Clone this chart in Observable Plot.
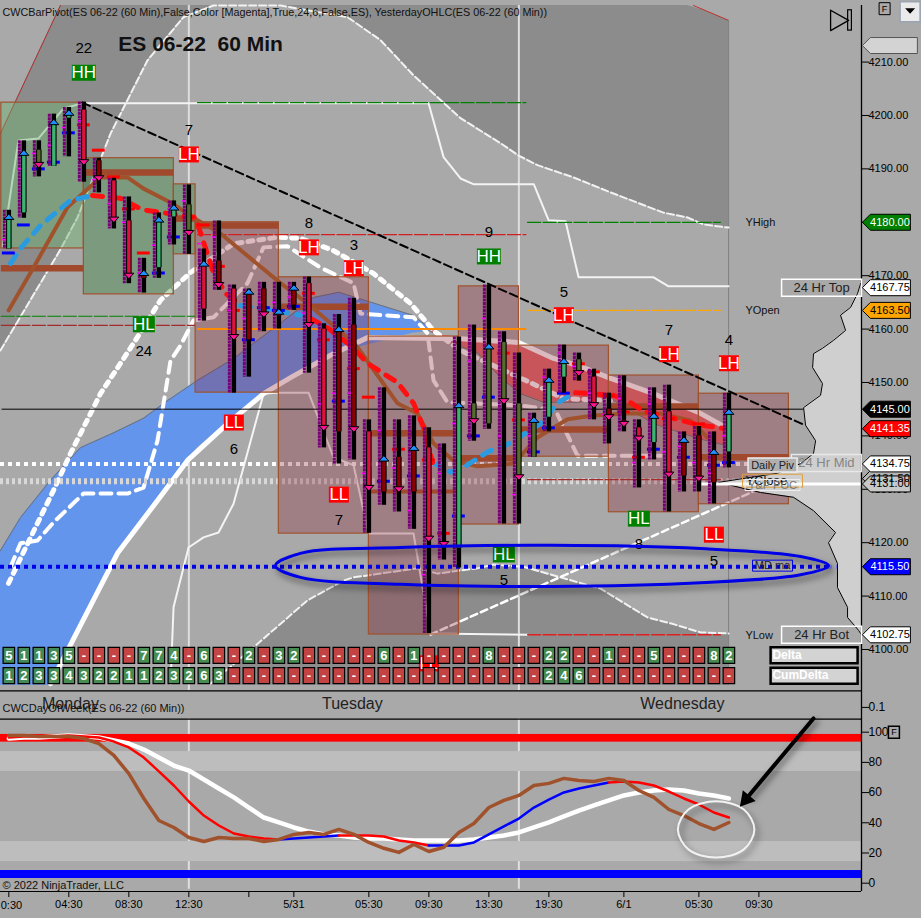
<!DOCTYPE html>
<html><head><meta charset="utf-8">
<script src="https://cdn.jsdelivr.net/npm/d3@7"></script>
<script src="https://cdn.jsdelivr.net/npm/@observablehq/plot@0.6"></script>
<style>html,body{margin:0;padding:0;background:#a9a9a9;overflow:hidden}svg{display:block}</style>
</head><body><div id="chart"></div>
<script>
// ---------- price bars (bar index = position in array, hourly bars)
const barHigh=[4182.25,4195.25,4195.25,4200.25,4201.5,4202.5,4192,4188.25,4184.75,4173.25,4181.75,4184,4187,4175,4180.25,4168.25,4167.5,4168.75,4168.75,4168.75,4169.75,4161,4162.75,4165.75,4143,4149,4143,4143.75,4141.5,4138.5,4158.5,4160.75,4168.25,4159.5,4155.5,4144.25,4152.5,4157,4155.5,4152.5,4148,4151.25,4143,4149,4149.5,4140.75,4141.75,4140.75,4148];
const barLow=[4175,4180.75,4188.5,4190.5,4192.25,4187.5,4185.5,4178.75,4168.5,4166.75,4169.5,4175.75,4174,4161.5,4167.25,4148,4151,4159.5,4160,4163.5,4151.75,4137.75,4134.75,4135.5,4121.75,4127,4125.75,4122.5,4103,4116.75,4115.25,4139,4141.25,4123.5,4123.5,4136,4140.75,4148,4150.25,4143,4138.5,4140.75,4130.25,4135.5,4125.75,4129.5,4129.5,4127.25,4134];
const bodyTop=[4181,4193,4193.5,4198.5,4200,4201,4191.5,4187.75,4180.25,4170.25,4180.25,4182.5,4183.25,4172,4172.75,4167.5,4166.75,4167.5,4163,4167.5,4168.5,4160,4159.75,4160.75,4140.75,4135.5,4136,4137.25,4137.75,null,4145.25,4146,4156.5,4157.5,4146,4142.5,4150,4153.75,4154.25,4151,4145,4142.75,4141.5,4143.5,4144.5,4139.25,4140,4136.5,4144.25];
const bodyBottom=[4175,4181.75,4190.75,4190.5,4199.5,4191.25,4188.25,4180.75,4170,4169.5,4171.5,4181,4178.5,4163.75,4168.5,4158.5,4158,4163,4162.5,4164.5,4161,4141.5,4140.75,4141.5,4130.25,4129.5,4130,4129.5,4120.75,null,4119,4143,4142.25,4146.75,4132.25,4136,4143.5,4151,4152,4146,4143.75,4142.25,4139.75,4138.75,4133,4132.5,4132.25,4131.25,4137];
const bodyKind=["g","g","o","g","g","c","d","c","c","d","g","g","o","c","d","c","d","d","d","d","c","c","d","d","c","d","d","d","c",null,"g","o","o","o","o","o","g","g","o","c","d","c","c","g","c","d","d","d","g"];
const pocPrice=[4181,4193,4190.75,4198.75,4200.5,4191.25,4188.25,4180.5,4170,4170.5,4180.5,4182.75,4178,4172.25,4168.25,4158.5,4167,4162.75,4163.25,4167.75,4160.75,4141.5,4160,4141.25,4130.25,4135.75,4130,4137.75,4120.75,4119.75,4145.75,4142.75,4156.75,4146.5,4132.25,4143,4150.5,4154,4151.75,4145.75,4143.5,4142.25,4139.5,4143.75,4132.75,4139.25,4132,4137,4144.5];
const pocDir=["u","u","d","u","u","d","d","d","d","u","u","u","d","u","d","d","u","d","u","u","d","d","u","d","d","u","d","u","d","d","u","d","u","d","d","u","u","u","d","d","d","d","d","u","d","u","d","u","u"];
const dashPrice=[4174.25,4179.5,4190,4191.25,4196.75,4198.25,4193.5,4188.5,4182.5,4174.25,4170.5,4177.25,4181,4179.5,4171.75,4163.5,4158,4164,4163.5,4164.25,4166.7,4158,4146.5,4152.6,4147.25,4131.5,4137.5,4132.5,4135.5,4121.75,4125,4140,4147.25,4155.5,4143,4137,4141.5,4148,4153.5,4152,4147.5,4144.5,4136,4137.5,4143.25,4136,4142.25,4134.5,4135];
const dashKind=["b","b","b","b","b","r","r","r","r","r","b","b","r","r","r","r","b","b","b","b","r","r","b","r","r","b","r","b","r","r","b","b","b","r","r","b","b","b","r","r","r","r","r","b","r","b","r","b","b"];
const tickPrice=[4176.75,4190,4192.9,4194.4,4197.75,4199,4188,4183.5,4180,4170.5,4175.7,4182.5,4184,4176,4177.25,4163.5,4162,4165,4165,4166,4163,4146,4148,4148,4133,4141,4134,4126,4114,4133,4142.3,4154,4162,4140,4129,4140,4151,4155.5,4153,4148,4144,4147,4135,4146,4137,4138,4135,4133,4140];
// ---------- value-area boxes: bar from, bar to, top, bottom
const greenBoxes=[[-0.5,5,4202.4,4175.1,"a"],[5,11,4192,4166.5,"b"],[11,12.45,4187.1,4174,"b"]];
const redBoxes=[[12.45,18,4180,4148.1],[18,24,4169.7,4121.7],[24,30,4158.6,4102.8],[30,34,4168,4123.4],[34,40,4156.9,4136.1],[40,46,4151.3,4125.7],[46,52,4147.9,4127.2]];
const pocBands=[[-0.5,5,4171.4],[5,11,4189.3],[11,12.45,4180.7],[12.45,18,4179.4],[18,24,4164.2],[24,30,4140.5],[30,34,4135.8],[34,40,4141.2],[40,46,4145.5],[46,52,4136]];
const pocThin=[[24,30,4129.6]];
// ---------- clouds
const upperBand=[[-0.56,4156],[3.44,4174.9],[4.58,4180.9],[6.78,4196.6],[9.24,4210.3],[11.64,4218.4],[13.64,4220.6],[18.11,4220.6],[22.58,4218.4],[24.78,4214.1],[26.98,4207.5],[30.11,4199.5],[32.78,4194.8],[33.98,4192.5],[35.24,4190.7],[37.64,4188.4],[40.11,4185.6],[43.64,4181.8],[45.24,4180.9],[46.31,4179.6],[47.98,4179]];
const upperCeil=[4196.6,4220.6,4220.6,4220.6,4220.6,4220.6,4220.6,4220.6,4220.6,4220.6,4220.6,4220.6,4220.6,4220.6,4220.6,4220.6,4220.6,4220.6,4220.6,4219.7,4217.8];
const lowerBand=[[13.44,4093.6],[16.31,4100.4],[19.91,4109.2],[22.31,4112.9],[22.98,4113.5],[27.24,4115.2],[28.58,4114.2],[30.11,4114.8],[31.24,4115.2],[32.31,4115.9],[34.31,4115.5],[36.78,4113.5],[39.44,4111.4],[42.58,4106],[44.11,4104.9],[46.11,4103.2],[47.98,4103]];
const lowerFloor=4093.3;
const blueX=[-0.56,0.78,2.78,4.78,7,8.98,10.58,12.58,15,16.11,18.11,20.31,22,26.91,28.11];
const blueTop=[4118.5,4124.7,4131.7,4137.8,4140.6,4143.3,4146.6,4150.4,4154.5,4156.9,4161.1,4165.9,4166.9,4162.6,4160.1];
const blueBottom=[4093.3,4093.3,4093.3,4104.5,4116.7,4124.3,4130.3,4137.8,4143.6,4146.1,4150,4153.6,4155.6,4159.2,4159.6];
const salmonX=[28.05,29,31.24,32.78,34.11,35.64,37.91,40.11,42.98,45.98,47.78];
const salmonTop=[4159.9,4158.8,4158.2,4157.9,4157.3,4155.6,4153.2,4150.9,4147.9,4144.4,4141.8];
const salmonBottom=[4159.7,4157.9,4155.6,4150.9,4147.9,4146.3,4146.3,4147,4142.3,4139.5,4138.2];
// ---------- moving averages and channel lines
const thickWhite=[[2.78,4093.6],[7.24,4118],[9.91,4127.9],[11.91,4135.4],[14.58,4142.3],[16.98,4147.9],[18.78,4150.9],[21.64,4155.4],[23.91,4158.4],[30.11,4158.2],[33.98,4157.5],[36.31,4154.5],[37.91,4153.2],[39.98,4150.9],[42.98,4147.9],[45.98,4144.4],[47.91,4141.4]];
const brownMA=[[-0.02,4163.5],[1.64,4171.5],[3.91,4182.8],[6.11,4188.4],[7.91,4188.4],[8.98,4186.3],[10.78,4183.7],[12.58,4180.4],[14.11,4177.9],[18.11,4168.6],[19.91,4164.8],[22.78,4157.9],[23.24,4156.6],[25.91,4146.1],[27.24,4144.2],[28.31,4138.6],[29.64,4135.4],[31.24,4134.3],[33.64,4134.8],[35.24,4139.7],[37.24,4143.1],[38.98,4143.8],[41.24,4144.2],[43.44,4144.2],[45.44,4142.9],[46.58,4139.7]];
const dottedWhite=[[-0.02,4112.4],[1.78,4122.9],[2.98,4129.8],[4.11,4136.7],[6.11,4147.9],[8.31,4157.3],[10.11,4165.4],[12.11,4170.6],[14.98,4176],[17.91,4177.2],[19.44,4177],[21.64,4174.7],[24.31,4170.4],[26.78,4164.8],[28.31,4159.7],[30.11,4156],[34.44,4150.4],[36.98,4147],[40.11,4146.6]];
const dashedWhite=[[0.11,4115.4],[0.78,4119.9],[1.91,4120.4],[2.98,4123.8],[4.98,4129.2],[7.91,4129.2],[8.98,4130.3],[9.91,4139.1],[10.78,4154.1],[11.44,4156.9],[12.31,4161.6],[13.64,4162.2],[15.91,4168.6],[16.98,4175.3],[18.58,4175.5],[20.78,4171.5],[22.98,4168.6],[23.44,4162.9],[26.98,4162.2],[27.91,4159.2],[28.31,4150.4],[29.24,4146.3],[34.11,4145.7],[36.44,4144.8],[37.91,4136.3],[43.44,4136.3]];
const fastBlue=[[[0.11,4172.3],[0.78,4175.1],[2.11,4179.4],[4.11,4184.1],[5.58,4185]],[[15.44,4164.4],[16.44,4164.1],[19.44,4162.6]],[[28.24,4135],[29.44,4133.2],[30.31,4134.1],[31.98,4137.1],[33.24,4138.4],[35.44,4142.3],[36.64,4146.3],[37.78,4148.1]]];
const fastRed=[[[5.58,4185],[7.44,4184.5],[8.58,4182.8],[9.24,4182.2],[12.44,4180.9],[13.64,4170.6],[14.44,4166.7],[15.44,4164.4]],[[20.1,4162],[21.31,4160.1],[22.78,4156.9],[23.91,4153.6],[25.91,4150],[26.98,4146.1],[27.64,4141.6],[28.24,4135]],[[37.78,4148.1],[40.31,4147.6],[41.31,4146.5],[42.31,4144.6],[44.31,4143.3],[45.91,4142.1],[47.64,4141.4]]];
const topLine=[[-0.42,4175.3],[0.24,4187.8],[0.64,4195.3],[1.98,4195.7],[3.64,4201.3],[4.91,4202.3],[27.98,4202.3],[28.98,4192.2],[30.11,4188.2],[31,4187.1],[35,4187.1],[35.98,4180.4],[37.11,4180.2],[37.98,4169.7],[42.98,4169.7],[43.98,4168],[47.98,4168]];
const lowLine=[[10.78,4093.6],[10.98,4107.9],[11.98,4119.1],[12.98,4121],[13.98,4121.9],[14.98,4127.3],[16.98,4147.9],[17.98,4148.1],[19.98,4148.1],[21.64,4136],[22.98,4134.5],[23.98,4121.7],[26.98,4121.7],[27.58,4111.6],[28.11,4103],[34.58,4102.75]];
const levels=[
 [12.58,34.53,4202.4,"#008000"],[34.58,47.5,4180,"#008000"],[12.58,34.53,4177.7,"#d02020"],
 [-0.5,12.44,4162.4,"#008000"],[-0.5,12.44,4160.7,"#a52a2a"],[34.58,47.5,4163.5,"#ffa500"],
 [34.58,47.5,4131.8,"#a52a2a"]];
const blackTrend=[[4.91,4202.4],[53.11,4141.95]];
const whiteTrend=[[28.11,4102.8],[52.78,4133.5]];
const ellipsePts=[[17.78,4115.7],[19.44,4118],[26.11,4119.1],[36.24,4119.5],[46.11,4118.9],[52.78,4117.4],[54.64,4115.7],[52.78,4114],[46.11,4112.5],[36.24,4111.8],[26.11,4112.2],[19.44,4113.5]];
// ---------- volume profile: left edge and price
const profileEdge=[56.78,56.58,56.11,55.44,55.78,54.98,54.24,53.64,53.58,54.24,54.11,52.98,53.11,53.78,53.64,52.78,51.24,47.31,50.11,52.31,53.64,55.11,54.64,55.24,55.24,55.91,55.91,56.64,56.78];
const profilePrice=[4168.55,4166.7,4164.05,4162.6,4159.75,4157.9,4156.4,4155.4,4152.8,4149.8,4147.6,4145.3,4142,4139.1,4136.7,4134.8,4133,4131.3,4129.4,4128.5,4126,4121.9,4120,4116.1,4111.6,4107.9,4106,4103.6,4103];
// ---------- pivot labels
const pivots=[["HH",5,4208,"22",4212.6],["LH",12,4192.7,"7",4197.2],["LH",20,4175.3,"8",4179.8],["LH",23,4171.4,"3",4175.7],["HL",9,4160.9,"24",4155.8],["LL",15,4142.5,"6",4137.6],["LL",22,4129,"7",4124.2],["HH",32,4173.6,"9",4178.1],["LH",37,4162.6,"5",4166.9],["LH",44,4155.3,"7",4159.7],["LH",48,4153.6,"4",4157.9],["HL",42,4124.5,"8",4119.7],["LL",47,4121.5,"5",4116.5],["HL",33,4117.8,"5",4112.9],["LL",28,4097.4,"",0]];
// ---------- delta rows
const deltaRow=["5","1","1","3","5","-","-","-","-","7","7","4","-","6","-","-","2","-","3","2","-","-","-","-","-","6","-","1","-","-","-","-","8","-","-","-","2","2","-","-","1","-","-","5","-","-","-","8","2"];
const cumDeltaRow=["1","2","3","3","4","3","2","2","1","1","2","3","2","6","3","-","-","-","-","-","-","-","-","-","-","-","-","-","-","-","-","-","-","-","-","-","2","4","6","-","-","-","-","-","-","-","-","-","-"];
// ---------- right-hand price tags
const priceTags=[["",4213.1,"#d3d3d3","#000",true],["4131.50",4132,"#b5b5b5","#000"],["4180.00",4180,"#008000","#fff"],["4167.75",4167.75,"#fff","#000"],["4163.50",4163.5,"#ffa500","#000"],["4145.00",4145,"#000","#fff"],["4141.35",4141.35,"#ff0000","#fff"],["4134.75",4134.75,"#fff","#000"],["4131.00",4131,"#c8c8c8","#000"],["4115.50",4115.5,"#0000ff","#fff"],["4102.75",4102.75,"#fff","#000"]];
// ---------- day-of-week oscillator, one value per bar
const oscWhite=[95.8,96.5,96.5,97.2,97.8,97.2,96.5,94.5,92.5,88.5,83.2,77.9,74.6,68.7,62.7,56.8,50.1,43.5,40.3,36.9,34.2,32.3,31.6,30.3,29.6,29.6,28.9,28.3,28.3,28.3,28.3,28.9,30.3,31.6,33.6,36.9,40.3,44.2,48.1,51.5,54.8,58.1,60.1,61.4,62.1,61.4,59.4,58.1,56.1];
const oscFast=[96.5,97.2,97.2,97.2,97.8,97.2,96.5,93.8,89.9,83.2,74,64.7,54.1,44.8,38.2,32.9,30.9,29.6,29,29.6,30.3,30.9,31.6,31.6,31.6,30.9,28.3,27,25,25,25,27,32.3,37.6,42.8,50.1,55.4,60.1,62.7,64.7,66.7,67.3,66.7,64.7,60.7,56.1,52.1,46.8,43.5];
const oscFastColor=["r","r","r","r","r","r","r","r","r","r","r","r","r","r","r","r","r","r","b","b","b","b","r","r","r","r","r","r","b","b","b","b","b","b","b","b","b","b","b","b","r","r","r","r","r","r","r","r","r"];
const oscBrown=[97.8,97.8,97.2,97.2,97.2,95.8,92.5,84.6,72.6,56.1,41.5,36.9,30.3,27.6,30.3,29.6,29.6,27.6,29,32.3,33.6,32.3,35.6,32.3,27,23.1,20.4,25.6,21,23.8,33.6,39.5,50.1,54.8,58.1,64.7,66.1,69.4,68,67.3,69.4,68,61.4,56.8,48.8,44.8,39.5,35.6,40.2];
const circlePts=[[44.6,35.6],[45.3,48.8],[47.14,54.2],[49,48.8],[49.7,35.6],[49,22.4],[47.14,17],[45.3,22.4]];
const xTicks=[0,4,8,12,16,19,24,28,32,36,41,46,50];
const xTickLabels=["","04:30","08:30","12:30","","5/31","05:30","09:30","13:30","19:30","6/1","05:30","09:30"];
const priceTicks=[4100,4110,4120,4130,4140,4150,4160,4170,4180,4190,4200,4210];

// ---------- helpers
const X=d=>d[0],Y=d=>d[1];
const box=(w,h)=>({draw(c){c.rect(-w/2,-h/2,w,h)}});
const tagSym=w=>({draw(c){c.moveTo(0,0);c.lineTo(8,-8);c.lineTo(w,-8);c.lineTo(w,8);c.lineTo(8,8);c.closePath()}});
const triUp={draw(c){c.moveTo(-5,2.5);c.lineTo(5,2.5);c.lineTo(0,-3);c.closePath()}};
const triDown={draw(c){c.moveTo(-5,-2.5);c.lineTo(5,-2.5);c.lineTo(0,3);c.closePath()}};
const FONT="'Liberation Sans',Arial,sans-serif";
const bars=barHigh.map((h,i)=>({i,h,l:barLow[i],t:bodyTop[i],b:bodyBottom[i],k:bodyKind[i],poc:pocPrice[i],dir:pocDir[i],dp:dashPrice[i],dk:dashKind[i],tick:tickPrice[i]}));
const bodyCol={g:"#3cb371",o:"#556b2f",c:"#dc143c",d:"#8b0000"};
const xDom=[-0.555,56.84],xRange=[0,861];
const label=(t,x,y,o={})=>Plot.text([t],{x:()=>x,y:()=>y,text:d=>d,fontSize:11,fill:"#111",...o});
const boxed=(t,x,y,w,h,o={})=>[
  Plot.dot([0],{x:()=>x,y:()=>y,symbol:box(w,h),fill:o.bg||"none",stroke:o.edge||"#fff",strokeWidth:o.sw||1.5}),
  Plot.text([t],{x:()=>o.tx??x,y:()=>y,text:d=>d,fontSize:o.fs||12,fill:o.fg||"#222",fontWeight:o.fw||"normal",textAnchor:o.anchor||"middle"})];

// ---------- main price panel
const main=Plot.plot({
 width:921,height:690,marginLeft:0,marginRight:60,marginTop:0,marginBottom:0,
 style:{fontFamily:FONT,background:"transparent"},
 x:{domain:xDom,range:xRange,axis:null},
 y:{domain:[4092.32,4221.53],range:[690,0],axis:null},
 marks:[
  Plot.areaY(upperBand,{x:X,y1:(d,i)=>upperCeil[i],y2:Y,fill:"#8c8c8c",curve:"linear"}),
  Plot.areaY(lowerBand,{x:X,y1:Y,y2:()=>lowerFloor,fill:"#8c8c8c"}),
  Plot.line([[-0.56,4196.6],[3.44,4220.6]],{x:X,y:Y,stroke:"#b03030",strokeWidth:1}),
  Plot.line([[45.64,4220.6],[47.98,4217.8]],{x:X,y:Y,stroke:"#c03030",strokeWidth:1}),
  Plot.ruleX([47.98],{y1:4217.8,y2:4093.3,stroke:"#808080",strokeWidth:1}),
  Plot.ruleX([12,34],{y1:4220.6,y2:4092.32,stroke:"#dedede",strokeWidth:2}),
  Plot.areaY(blueX,{x:d=>d,y1:(d,i)=>blueTop[i],y2:(d,i)=>blueBottom[i],fill:"#6495ed"}),
  Plot.line(blueX,{x:d=>d,y:(d,i)=>blueTop[i],stroke:"#707070",strokeWidth:1}),
  Plot.areaY(salmonX,{x:d=>d,y1:(d,i)=>salmonTop[i],y2:(d,i)=>salmonBottom[i],fill:"#e46a6a"}),
  Plot.line(salmonX,{x:d=>d,y:(d,i)=>salmonBottom[i],stroke:"#707070",strokeWidth:1}),
  Plot.line(upperBand,{x:X,y:Y,stroke:"#f2f2f2",strokeWidth:2,strokeDasharray:"7 3"}),
  Plot.line(lowerBand,{x:X,y:Y,stroke:"#f2f2f2",strokeWidth:2,strokeDasharray:"7 3"}),
  Plot.line(topLine,{x:X,y:Y,stroke:"#f4f4f4",strokeWidth:2}),
  Plot.line(lowLine,{x:X,y:Y,stroke:"#f4f4f4",strokeWidth:2}),
  Plot.line(thickWhite,{x:X,y:Y,stroke:"#fff",strokeWidth:5}),
  Plot.line(dottedWhite,{x:X,y:Y,stroke:"#fff",strokeWidth:5,strokeDasharray:"5 6"}),
  Plot.line(dashedWhite,{x:X,y:Y,stroke:"#fff",strokeWidth:4,strokeDasharray:"11 7"}),
  Plot.ruleY([4134.75],{x1:-0.555,x2:56.84,stroke:"#fff",strokeWidth:4,strokeDasharray:"4 4"}),
  Plot.ruleY([4131.5],{x1:-0.555,x2:56.84,stroke:"#d8d8d8",strokeWidth:6,strokeDasharray:"3 3"}),
  Plot.line(whiteTrend,{x:X,y:Y,stroke:"#fff",strokeWidth:2.5,strokeDasharray:"7 4"}),
  // value area boxes
  Plot.rect(greenBoxes,{x1:d=>d[0],x2:d=>d[1],y1:d=>d[3],y2:d=>d[2],fill:d=>d[4]==="a"?"rgb(111,180,111)":"rgb(20,120,25)",fillOpacity:d=>d[4]==="a"?.45:.3,stroke:"#a0522d",strokeWidth:1.2}),
  Plot.rect(redBoxes,{x1:d=>d[0],x2:d=>d[1],y1:d=>d[3],y2:d=>d[2],fill:"rgb(140,40,55)",fillOpacity:.32,stroke:"#a0522d",strokeWidth:1.2}),
  Plot.ruleY(pocBands,{x1:d=>d[0],x2:d=>d[1],y:d=>d[2],stroke:"#a0492d",strokeWidth:6.5}),
  Plot.ruleY(pocThin,{x1:d=>d[0],x2:d=>d[1],y:d=>d[2],stroke:"#a0492d",strokeWidth:4}),
  // levels
  Plot.ruleY(levels,{x1:d=>d[0],x2:d=>d[1],y:d=>d[2],stroke:d=>d[3],strokeWidth:1.2,strokeDasharray:"14 1.5"}),
  Plot.ruleY([4160],{x1:12.58,x2:34.53,stroke:"#ff8c00",strokeWidth:2}),
  Plot.ruleY([4102.75],{x1:34.58,x2:47.5,stroke:"#e02020",strokeWidth:1.5,strokeDasharray:"14 1.5"}),
  Plot.ruleY([4145],{x1:-0.45,x2:56.84,stroke:"#000",strokeWidth:1}),
  Plot.ruleY([4115.5],{x1:-0.555,x2:54.64,stroke:"#0000e6",strokeWidth:4,strokeDasharray:"4 4"}),
  Plot.ruleY([4115.5],{x1:54.64,x2:56.84,stroke:"#7a7af0",strokeWidth:4,strokeDasharray:"4 4"}),
  // profile
  Plot.areaX(profileEdge,{x1:()=>56.84,x2:d=>d,y:(d,i)=>profilePrice[i],fill:"#cfcfcf"}),
  Plot.line(profileEdge,{x:d=>d,y:(d,i)=>profilePrice[i],stroke:"#000",strokeWidth:1}),
  Plot.ruleY([4131],{x1:46.2,x2:56.84,stroke:"#fff",strokeWidth:3}),
  // moving averages
  Plot.line(brownMA,{x:X,y:Y,stroke:"#a0522d",strokeWidth:4}),
  ...fastBlue.map(s=>Plot.line(s,{x:X,y:Y,stroke:"#2a9be0",strokeWidth:5,strokeDasharray:"10 9"})),
  ...fastRed.map(s=>Plot.line(s,{x:X,y:Y,stroke:"#ff1010",strokeWidth:5,strokeDasharray:"10 9"})),
  Plot.line(blackTrend,{x:X,y:Y,stroke:"#000",strokeWidth:2,strokeDasharray:"8 4"}),
  // bars
  Plot.ruleY(bars,{x1:d=>d.i-.43,x2:d=>d.i+.43,y:"dp",stroke:d=>d.dk==="b"?"#0000ff":"#ff0000",strokeWidth:3}),
  Plot.ruleX(bars,{x:"i",y1:"h",y2:"l",dx:-4.5,stroke:"#7a007a",strokeWidth:3,strokeDasharray:"3 .5"}),
  Plot.ruleX(bars,{x:"i",y1:"h",y2:"l",stroke:"#000",strokeWidth:4.5}),
  Plot.ruleX(bars.filter(d=>d.k),{x:"i",y1:"t",y2:"b",stroke:"#000",strokeWidth:5.5}),
  Plot.ruleX(bars.filter(d=>d.k),{x:"i",y1:"t",y2:"b",stroke:d=>bodyCol[d.k],strokeWidth:3.4}),
  Plot.ruleY(bars,{x1:d=>d.i-.42,x2:d=>d.i-.17,y:"tick",stroke:"#ff00ff",strokeWidth:1.5}),
  Plot.dot(bars.filter(d=>d.dir==="u"),{x:"i",y:"poc",symbol:triUp,fill:"#1e90ff",stroke:"#000",strokeWidth:1}),
  Plot.dot(bars.filter(d=>d.dir==="d"),{x:"i",y:"poc",symbol:triDown,fill:"#ff1493",stroke:"#000",strokeWidth:1}),
  // pivot labels
  Plot.dot(pivots.filter(d=>d[0]==="HH"),{x:d=>d[1],y:d=>d[2],symbol:box(24,16),fill:"#008000"}),
  Plot.dot(pivots.filter(d=>d[0]==="HL"),{x:d=>d[1],y:d=>d[2],symbol:box(22,16),fill:"#008000"}),
  Plot.dot(pivots.filter(d=>d[0][0]==="L"),{x:d=>d[1],y:d=>d[2],symbol:box(20,16),fill:"#ff0000"}),
  Plot.text(pivots,{x:d=>d[1],y:d=>d[2],text:d=>d[0],fill:"#fff",fontSize:17}),
  Plot.text(pivots,{x:d=>d[1],y:d=>d[4],text:d=>d[3],fill:"#000",fontSize:15}),
  // ellipse
  Plot.line(ellipsePts,{x:X,y:Y,curve:"catmull-rom-closed",stroke:"#0000e6",strokeWidth:3,imageFilter:"drop-shadow(3px 4px 3px rgba(0,0,0,.55))"}),
  // delta rows
  Plot.dot(deltaRow,{x:(d,i)=>i,y:()=>4098.9,symbol:box(11.5,16),fill:d=>d==="-"?"#c83c3c":"#3f8a4a",fillOpacity:.92,stroke:"#000",strokeWidth:1.2}),
  Plot.text(deltaRow,{x:(d,i)=>i,y:()=>4098.9,text:d=>d,fill:"#fff",fontSize:13,fontWeight:"bold"}),
  Plot.dot(cumDeltaRow,{x:(d,i)=>i,y:()=>4095.1,symbol:box(11.5,16),fill:d=>d==="-"?"#c83c3c":"#3f8a4a",fillOpacity:.92,stroke:"#000",strokeWidth:1.2}),
  Plot.text(cumDeltaRow,{x:(d,i)=>i,y:()=>4095.1,text:d=>d,fill:"#fff",fontSize:13,fontWeight:"bold"}),
  // axis
  Plot.ruleX([56.84],{y1:4220.6,y2:4092.32,stroke:"#000",strokeWidth:1.3}),
  Plot.axisY({anchor:"right",ticks:priceTicks,tickFormat:d=>d.toFixed(2),tickSize:7,tickPadding:0,fontSize:11,label:null,color:"#000"}),
  // text annotations
  label("YHigh",49.1,4180,{textAnchor:"start"}),
  label("YOpen",49.1,4163.5,{textAnchor:"start"}),
  label("YLow",49.1,4102.6,{textAnchor:"start"}),
  ...boxed("24 Hr Mid",54.5,4134.9,70,17,{fg:"#858585",fs:13,edge:"#e8e8e8"}),
  ...boxed("",50.91,4131.6,60,13,{edge:"#e0a040",sw:1}),
  label("YClose",49.1,4131.5,{textAnchor:"start",fontSize:13}),
  ...boxed("Y&P POC",50.91,4130.8,55,11,{edge:"#eee",sw:1,fg:"#777",fs:11}),
  ...boxed("Daily Piv",50.91,4134.55,49,14,{bg:"#b0b0b0",edge:"#eee",fs:11}),
  ...boxed("MD ma",50.91,4115.7,40,11,{edge:"#0000e6",sw:1,fs:11}),
  ...boxed("24 Hr Top",54.18,4167.75,80,17,{fg:"#222",fs:13}),
  ...boxed("24 Hr Bot",54.18,4102.75,80,17,{fg:"#222",fs:13}),
  ...boxed("Delta",53.68,4098.9,87,16,{bg:"#d3d3d3",edge:"#000",sw:2.5,fg:"#fff",fw:"bold",anchor:"start",tx:50.9}),
  ...boxed("CumDelta",53.68,4095.1,87,16,{bg:"#d3d3d3",edge:"#000",sw:2.5,fg:"#fff",fw:"bold",anchor:"start",tx:50.9}),
  // price tags
  Plot.dot(priceTags.filter(d=>d[4]),{x:()=>56.9,y:d=>d[1],symbol:tagSym(55),fill:d=>d[2],stroke:"#555",strokeWidth:1}),
  Plot.dot(priceTags.filter(d=>!d[4]),{x:()=>56.9,y:d=>d[1],symbol:tagSym(48),fill:d=>d[2],stroke:"#000",strokeWidth:1}),
  Plot.text(priceTags,{x:()=>56.9,y:d=>d[1],text:d=>d[0],dx:27.5,fill:d=>d[3],fontSize:11}),
  // headings
  Plot.text(["CWCBarPivot(ES 06-22 (60 Min),False,Color [Magenta],True,24,6,False,ES), YesterdayOHLC(ES 06-22 (60 Min))"],{x:()=>-0.42,y:()=>4219.3,text:d=>d,textAnchor:"start",fontSize:10.8,fill:"#111"}),
  Plot.text(["ES 06-22  60 Min"],{x:()=>7.3,y:()=>4213.4,text:d=>d,textAnchor:"start",fontSize:21,fontWeight:"bold",fill:"#111",style:{whiteSpace:"pre"}}),
  // chart-trader glyphs
  Plot.line([[54.78,4219.7],[55.98,4217.8],[54.78,4215.9],[54.78,4219.7]],{x:X,y:Y,stroke:"#000",strokeWidth:1.3}),
  Plot.rect([0],{x1:()=>55.95,x2:()=>56.2,y1:()=>4215.9,y2:()=>4219.7,stroke:"#000",strokeWidth:1.2,fill:"none"}),
  ...boxed("F",58.38,4220,11,12,{edge:"#000",sw:1,fs:9,fg:"#000"}),
  Plot.dot([0],{x:()=>60.08,y:()=>4219.4,symbol:box(20,20),fill:"#eaeaea",stroke:"#9aa4b4",strokeWidth:1.5}),
  Plot.dot([0],{x:()=>60.08,y:()=>4219.6,symbol:triDown,fill:"#000"})
 ]});

// ---------- oscillator panel
const sameColorRuns=(vals,cols)=>{const runs=[];let cur=null;vals.forEach((v,i)=>{if(!cur||cols[i]!==cur.c){if(cur)cur.p.push([i,v]);cur={c:cols[i],p:[]};runs.push(cur)}cur.p.push([i,v])});return runs};
const lower=Plot.plot({
 width:921,height:228,marginLeft:0,marginRight:60,marginTop:0,marginBottom:27,
 style:{fontFamily:FONT,background:"transparent"},
 x:{domain:xDom,range:xRange,axis:null},
 y:{domain:[-5.5,127.6],range:[201,0],axis:null},
 marks:[
  Plot.ruleX([12,34],{y1:108.7,y2:-4,stroke:"#dedede",strokeWidth:2}),
  Plot.rect([[87.2,74],[27.6,14.3]],{x1:()=>-0.555,x2:()=>56.84,y1:d=>d[1],y2:d=>d[0],fill:"#bdbdbd"}),
  Plot.rect([[98.5,93.4]],{x1:()=>-0.555,x2:()=>56.84,y1:d=>d[1],y2:d=>d[0],fill:"#ff0000"}),
  Plot.rect([[8.4,3.1]],{x1:()=>-0.555,x2:()=>56.84,y1:d=>d[1],y2:d=>d[0],fill:"#0000ff"}),
  Plot.ruleY([127.4,108.7,-5.5],{x1:-0.555,x2:56.84,stroke:"#000",strokeWidth:1.2}),
  Plot.ruleX([56.84],{y1:127.6,y2:-5.5,stroke:"#000",strokeWidth:1.3}),
  Plot.line(oscWhite,{x:(d,i)=>i,y:d=>d,stroke:"#fff",strokeWidth:4.5}),
  ...sameColorRuns(oscFast,oscFastColor).map(r=>Plot.line(r.p,{x:X,y:Y,stroke:r.c==="r"?"#ff0000":"#0000ff",strokeWidth:2.5})),
  Plot.line(oscBrown,{x:(d,i)=>i,y:d=>d,stroke:"#a0522d",strokeWidth:3.5}),
  Plot.line(circlePts,{x:X,y:Y,curve:"catmull-rom-closed",stroke:"#f2f2f2",strokeWidth:2,imageFilter:"drop-shadow(3px 4px 3px rgba(0,0,0,.5))"}),
  Plot.line([[53.64,109.1],[49.3,57.6]],{x:X,y:Y,stroke:"#000",strokeWidth:4,imageFilter:"drop-shadow(3px 3px 3px rgba(0,0,0,.5))"}),
  Plot.dot([0],{x:()=>49.15,y:()=>55.5,symbol:"triangle2",r:8,rotate:220,fill:"#000"}),
  Plot.axisY({anchor:"right",ticks:[0,20,40,60,80,100,116.4],tickFormat:d=>d===116.4?"0.1":String(d),tickSize:7,tickPadding:0,fontSize:12,label:null}),
  Plot.axisX({anchor:"bottom",ticks:xTicks,tickFormat:d=>xTickLabels[xTicks.indexOf(d)],tickSize:6,tickPadding:3,fontSize:11,label:null}),
  Plot.text(["0:30"],{x:()=>-0.54,y:()=>-14.6,text:d=>d,textAnchor:"start",fontSize:11,fill:"#000"}),
  Plot.text(["Monday"],{x:()=>4.11,y:()=>119,text:d=>d,fontSize:16,fill:"#222"}),
  Plot.text(["Tuesday"],{x:()=>22.9,y:()=>119,text:d=>d,fontSize:16,fill:"#222"}),
  Plot.text(["Wednesday"],{x:()=>44.9,y:()=>119,text:d=>d,fontSize:16,fill:"#222"}),
  Plot.text(["CWCDayOfWeek(ES 06-22 (60 Min))"],{x:()=>-0.42,y:()=>115.7,text:d=>d,textAnchor:"start",fontSize:11,fill:"#111"}),
  Plot.text(["© 2022 NinjaTrader, LLC"],{x:()=>-0.42,y:()=>-1.5,text:d=>d,textAnchor:"start",fontSize:11,fill:"#111"}),
  Plot.dot([0],{x:()=>59,y:()=>100,symbol:box(11,12),stroke:"#000",fill:"none"}),
  Plot.text(["F"],{x:()=>59,y:()=>100,text:d=>d,fontSize:9,fill:"#000"})
 ]});
document.getElementById("chart").append(main,lower);
</script></body></html>
